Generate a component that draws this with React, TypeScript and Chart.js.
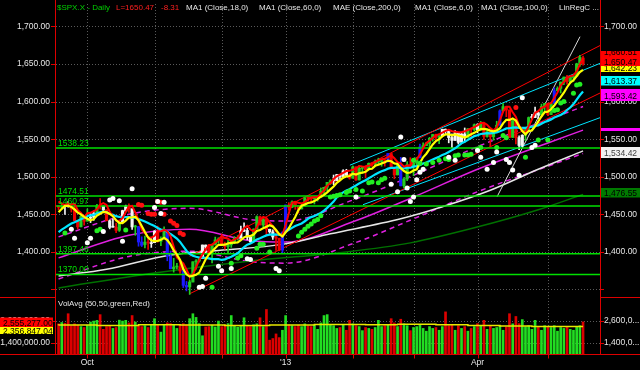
import React, { useEffect, useRef } from "react";
import { Chart, registerables } from "chart.js";

Chart.register(...registerables);

// ---------------- DATA ----------------
// closes before the first visible bar (Aug 23 - Sep 17, 2012), used for MA warm-up
const priorCloses = [1402.08, 1411.13, 1410.44, 1409.3, 1410.49, 1399.48, 1406.58, 1404.94, 1403.44, 1432.12, 1437.92, 1429.08, 1433.56, 1436.56, 1459.99, 1465.77, 1461.19];
const priorHighs = [1474.51, 1465.63];

// daily bars Sep 18 2012 - May 16 2013
const opens = [
  1461.19, 1459.5, 1461.05, 1460.34, 1459.76, 1456.94, 1441.6, 1433.36, 1447.13,
  1440.9, 1444.99, 1446.05, 1451.08, 1461.4, 1460.93, 1455.9, 1441.48, 1432.82, 1432.84,
  1428.75, 1440.31, 1454.22, 1460.94, 1457.34, 1433.21, 1433.74, 1413.2, 1409.74, 1412.97, 1410.99,
  1412.2, 1427.59, 1414.02, 1417.26, 1428.27, 1394.53, 1377.55, 1379.86, 1380.03, 1374.64, 1355.41, 1353.36,
  1359.88, 1386.82, 1387.79, 1391.03, 1409.15, 1406.29, 1398.77, 1409.96, 1415.95,
  1416.34, 1409.46, 1407.05, 1409.43, 1413.95, 1418.07, 1418.55, 1427.84, 1428.48, 1419.45,
  1413.54, 1430.47, 1446.79, 1435.81, 1443.67, 1430.15, 1426.66, 1419.83, 1418.1, 1402.43,
  1426.19, 1462.42, 1459.37, 1466.47, 1461.89, 1457.15, 1461.02, 1472.12,
  1472.05, 1470.67, 1472.33, 1472.63, 1480.95, 1485.98, 1492.56, 1494.81, 1494.82, 1502.96, 1500.18, 1507.84, 1501.96,
  1498.11, 1513.17, 1495.71, 1511.29, 1512.12, 1509.39, 1517.93, 1517.01, 1519.43, 1520.33, 1521.38,
  1519.79, 1530.94, 1511.95, 1502.42, 1515.6, 1487.85, 1496.94, 1515.99, 1514.68,
  1518.2, 1525.2, 1539.79, 1541.46, 1544.26, 1551.15, 1556.22, 1552.48, 1554.52, 1563.21,
  1560.7, 1552.1, 1548.34, 1558.71, 1545.9, 1556.89, 1551.69, 1563.75, 1562.86,
  1569.18, 1562.17, 1570.25, 1553.69, 1559.98, 1553.26, 1563.11, 1568.61, 1587.73, 1593.3,
  1588.84, 1552.36, 1574.57, 1552.03, 1541.61, 1555.25, 1562.5, 1578.78, 1578.78, 1585.16, 1582.34, 1593.58,
  1597.55, 1582.77, 1597.6, 1614.4, 1617.55, 1625.95, 1632.69, 1626.69, 1632.1, 1633.75, 1649.13, 1658.07,
];
const highs = [
  1461.47, 1465.15, 1461.23, 1467.07, 1461.47, 1463.24, 1441.6, 1450.2, 1447.13,
  1457.14, 1451.52, 1454.3, 1463.14, 1470.96, 1460.93, 1455.9, 1442.52, 1443.9, 1438.43,
  1441.31, 1455.51, 1462.2, 1464.02, 1457.34, 1435.46, 1433.74, 1420.04, 1421.12, 1417.09, 1418.76,
  1428.35, 1434.27, 1419.9, 1433.38, 1428.27, 1401.23, 1391.39, 1384.87, 1388.81, 1380.13, 1360.62, 1362.03,
  1386.89, 1389.77, 1391.25, 1409.16, 1409.15, 1409.01, 1410.31, 1419.7, 1418.86,
  1423.73, 1413.14, 1415.56, 1413.95, 1420.34, 1421.64, 1434.27, 1438.59, 1431.36, 1419.45,
  1430.67, 1448.0, 1447.75, 1443.7, 1443.67, 1430.15, 1429.42, 1422.8, 1418.1, 1426.74,
  1462.43, 1465.47, 1467.94, 1466.47, 1461.89, 1464.73, 1472.3, 1472.75,
  1472.05, 1473.31, 1473.96, 1485.16, 1485.98, 1492.56, 1496.13, 1502.27, 1503.26, 1503.23, 1509.35, 1509.94, 1504.19,
  1514.41, 1513.17, 1514.96, 1512.53, 1512.9, 1518.31, 1518.31, 1522.29, 1524.69, 1523.14, 1524.24,
  1530.94, 1530.94, 1511.95, 1515.64, 1525.84, 1498.99, 1520.08, 1525.34, 1519.99,
  1525.27, 1543.47, 1545.25, 1545.78, 1552.48, 1556.27, 1556.77, 1556.39, 1563.32, 1563.62,
  1560.7, 1557.25, 1561.56, 1558.71, 1557.74, 1564.91, 1563.95, 1564.07, 1570.28,
  1570.57, 1573.66, 1571.47, 1562.6, 1559.98, 1563.07, 1573.89, 1589.07, 1597.35, 1593.3,
  1588.84, 1575.35, 1574.57, 1554.38, 1555.89, 1565.55, 1579.58, 1583.0, 1592.64, 1585.78, 1596.65, 1597.57,
  1597.55, 1598.6, 1618.46, 1619.77, 1626.03, 1632.78, 1635.01, 1633.7, 1636.0, 1651.1, 1661.49, 1660.51,
];
const lows = [
  1456.13, 1457.88, 1449.98, 1459.51, 1453.0, 1441.59, 1430.53, 1433.36, 1435.6,
  1440.9, 1439.01, 1441.99, 1451.08, 1456.89, 1453.1, 1441.18, 1430.64, 1432.82, 1425.53,
  1427.24, 1440.31, 1453.35, 1452.63, 1429.85, 1422.06, 1407.56, 1407.1, 1405.14, 1403.28, 1405.95,
  1412.2, 1412.91, 1408.13, 1417.26, 1388.14, 1377.51, 1373.03, 1377.19, 1371.39, 1352.5, 1348.05, 1343.35,
  1359.88, 1377.04, 1386.39, 1391.03, 1397.68, 1398.03, 1385.43, 1409.04, 1411.63,
  1408.46, 1403.65, 1398.23, 1405.93, 1410.9, 1415.64, 1418.55, 1426.76, 1416.0, 1411.88,
  1413.54, 1430.47, 1435.8, 1432.82, 1422.58, 1424.66, 1416.43, 1401.8, 1401.58, 1398.11,
  1426.19, 1455.53, 1458.99, 1456.62, 1451.64, 1457.15, 1461.02, 1467.58,
  1465.69, 1463.76, 1467.6, 1472.63, 1475.81, 1481.16, 1489.9, 1489.46, 1494.82, 1496.33, 1498.09, 1500.11, 1496.76,
  1498.11, 1495.02, 1495.71, 1504.71, 1498.49, 1509.39, 1513.61, 1515.61, 1515.93, 1514.02, 1514.14,
  1519.79, 1511.41, 1497.29, 1502.42, 1487.85, 1485.01, 1494.88, 1514.46, 1501.48,
  1512.29, 1525.2, 1538.11, 1541.46, 1539.28, 1547.36, 1548.24, 1544.0, 1554.52, 1555.74,
  1545.13, 1538.57, 1548.34, 1543.55, 1545.9, 1546.22, 1551.69, 1551.9, 1561.08,
  1558.47, 1562.17, 1549.8, 1552.52, 1539.5, 1548.63, 1560.92, 1568.61, 1586.17, 1579.97,
  1552.28, 1552.36, 1543.69, 1536.03, 1539.4, 1548.19, 1562.5, 1575.8, 1578.78, 1577.56, 1582.34, 1586.5,
  1581.28, 1582.77, 1597.6, 1614.21, 1611.46, 1622.7, 1623.09, 1623.71, 1626.74, 1633.75, 1646.68, 1648.6,
];
const closes = [
  1459.32, 1461.05, 1460.26, 1460.15, 1456.89, 1441.59, 1433.32, 1447.15, 1440.67,
  1444.49, 1445.75, 1450.99, 1461.4, 1460.93, 1455.88, 1441.48, 1432.56, 1432.84, 1428.59,
  1440.13, 1454.92, 1460.91, 1457.34, 1433.19, 1433.82, 1413.11, 1408.75, 1412.97, 1411.94, 1412.16,
  1427.59, 1414.2, 1417.26, 1428.39, 1394.53, 1377.51, 1379.85, 1380.03, 1374.53, 1355.49, 1353.33, 1359.88,
  1386.89, 1387.81, 1391.03, 1409.15, 1406.29, 1398.94, 1409.93, 1415.95, 1416.18,
  1409.46, 1407.05, 1409.28, 1413.94, 1418.07, 1418.55, 1427.84, 1428.48, 1419.45, 1413.58,
  1430.36, 1446.79, 1435.81, 1443.69, 1430.15, 1426.66, 1419.83, 1418.1, 1402.43, 1426.19,
  1462.42, 1459.37, 1466.47, 1461.89, 1457.15, 1461.02, 1472.12, 1472.05,
  1470.68, 1472.34, 1472.63, 1480.94, 1485.98, 1492.56, 1494.81, 1494.82, 1502.96, 1500.18, 1507.84, 1501.96, 1498.11,
  1513.17, 1495.71, 1511.29, 1512.12, 1509.39, 1517.93, 1517.01, 1519.43, 1520.33, 1521.38, 1519.79,
  1530.94, 1511.95, 1502.42, 1515.6, 1487.85, 1496.94, 1515.99, 1514.68, 1518.2,
  1525.2, 1539.79, 1541.46, 1544.26, 1551.18, 1556.22, 1552.48, 1554.52, 1563.23, 1560.7,
  1552.1, 1548.34, 1558.71, 1545.8, 1556.89, 1551.69, 1563.77, 1562.85, 1569.19,
  1562.17, 1570.25, 1553.69, 1559.98, 1553.28, 1563.07, 1568.61, 1587.73, 1593.37, 1588.85,
  1552.36, 1574.57, 1552.01, 1541.61, 1555.25, 1562.5, 1578.78, 1578.79, 1585.16, 1582.24, 1593.61, 1597.57,
  1582.7, 1597.59, 1614.42, 1617.5, 1625.96, 1632.69, 1626.67, 1633.7, 1633.77, 1650.34, 1658.78, 1650.47,
];
// volume in thousands
const volumes = [
  2450, 2520, 2480, 3000, 2350, 2450, 2380, 2300, 2250,
  2380, 2550, 2600, 2640, 2950, 2150, 2300, 2350, 2200, 2250,
  2650, 2600, 2640, 2500, 2900, 2550, 2350, 2300, 2350, 2250, 2400,
  2730, 2400, 2000, 2420, 2500, 2460, 2370, 2200, 2420, 2460, 2400, 2730,
  3000, 2800, 2460, 1800, 2280, 2300, 2370, 2280, 2600,
  2300, 2400, 2460, 2900, 2350, 2270, 2370, 2780, 2350, 2300,
  2400, 2450, 2780, 2300, 3230, 1560, 1650, 1900, 1700, 2100,
  2900, 2400, 2350, 2300, 2380, 2300, 2450, 2350,
  2300, 2380, 2150, 2500, 2900, 2950, 2400, 2350, 2200, 2250, 2400, 2100, 2640,
  2450, 2350, 2300, 2080, 2250, 2200, 2150, 2250, 2640, 2300, 2350,
  2400, 2730, 2500, 2300, 2700, 2450, 2350, 2080, 2250,
  2300, 2400, 2200, 2050, 2300, 2200, 2250, 2100, 2300, 3100,
  2350, 2380, 2100, 2350, 2200, 2300, 2050, 2200, 2300,
  2460, 2350, 2640, 2150, 2370, 2200, 2250, 2350, 2100, 2280,
  3000, 2450, 2850, 2460, 2680, 2300, 2350, 2150, 2640, 2280, 2100, 2350,
  2300, 2250, 2350, 2050, 2250, 2200, 2300, 2150, 2100, 2300, 2350, 2555,
];
const volAvgIdx = [0, 12, 25, 38, 52, 66, 80, 96, 106, 118, 128, 138, 148, 156, 164];
const volAvgVals = [2370, 2380, 2360, 2400, 2380, 2360, 2390, 2420, 2400, 2430, 2400, 2360, 2330, 2300, 2300];

// candle colour groups
const blueBars = [25, 26, 34, 35, 39, 40, 70, 71, 103, 107, 113, 138, 155];
const whiteBars = [2, 3, 10, 11, 14, 16, 17, 20, 21, 23, 29, 30, 45, 46, 57, 58, 59, 60, 66, 67, 86, 87, 88, 89, 90, 120, 121, 122, 123, 124, 125, 126, 127, 131, 144, 145, 148, 149, 150];

// horizontal levels
const levels = [1538.23, 1474.51, 1460.97, 1397.46, 1370.0];
const levelLabels = ["1538.23", "1474.51", "1460.97", "1397.46", "1370.00"];

// longer averages
const ma100Idx = [0, 15, 35, 50, 70, 85, 107, 120, 135, 150, 164];
const ma100Vals = [1368, 1377, 1396, 1402, 1410, 1424, 1444, 1460, 1482, 1510, 1534.42];
const ma200Idx = [0, 30, 60, 90, 110, 130, 150, 164];
const ma200Vals = [1352, 1372, 1388, 1400, 1412, 1432, 1456, 1476.55];
const ma60Idx = [0, 22, 41, 60, 71, 92, 111, 131, 153, 164];
const ma60Vals = [1392, 1422, 1430, 1415, 1413, 1440, 1473, 1510, 1545, 1562];
const maeUpperVals = [1420, 1450, 1458, 1443, 1441, 1469, 1502, 1540, 1576, 1593.42];
const maeLowerVals = [1364, 1394, 1401, 1387, 1385, 1411, 1444, 1480, 1514, 1531];

// regression channels and trend line (bar index, price)
const redChanIdx = [41, 169.3];
const redChanUpper = [1394.3, 1674.6];
const redChanLower = [1344.3, 1611.4];
const redChanStart = [1344.3, 1366];
const cyanUpIdx = [91.1, 169.3];
const cyanUpVals = [1515.4, 1650.9];
const cyanLoIdx = [95.2, 169.3];
const cyanLoVals = [1462.8, 1578.6];
const trendIdx = [137.1, 163.05];
const trendVals = [1473.3, 1686.4];

// dots
const greenDotIdx = [2, 12, 13, 21, 48, 54, 56, 57, 62, 63, 64, 66, 75, 76, 77, 78, 79, 80, 81, 82, 85, 86, 87, 88, 90, 91, 93, 95, 97, 98, 100, 101, 102, 111, 113, 115, 117, 119, 121, 122, 124, 125, 127, 128, 129, 131, 132, 137, 139, 140, 146, 150, 153, 155, 156, 157, 158, 161, 162, 163];
const greenDotVals = [1425, 1428, 1430, 1429, 1353, 1385, 1392, 1395, 1405, 1410, 1410, 1400, 1421, 1426, 1430, 1434, 1437, 1441, 1443, 1448, 1473, 1474, 1475, 1476, 1479, 1481, 1483, 1481, 1492, 1493, 1492, 1496, 1498, 1522, 1518, 1517, 1519, 1522, 1524, 1523, 1528, 1529, 1529, 1529, 1530, 1537, 1539, 1539, 1555, 1552, 1526, 1549, 1549, 1588, 1589, 1598, 1600, 1611, 1622, 1623];
const redDotIdx = [25, 26, 28, 29, 30, 31, 32, 33, 35, 36, 37, 38, 39, 143];
const redDotVals = [1463, 1462, 1451, 1450, 1450, 1467, 1466, 1450, 1441, 1438, 1435, 1425, 1423, 1592];
const whiteDotIdx = [4, 5, 9, 10, 14, 16, 17, 19, 20, 23, 30, 31, 32, 33, 44, 45, 46, 50, 51, 54, 59, 60, 68, 69, 93, 104, 106, 107, 108, 109, 110, 111, 112, 113, 114, 122, 124, 131, 132, 134, 136, 137, 140, 141, 142, 144, 145, 148, 149];
const whiteDotVals = [1430, 1418, 1412, 1418, 1427, 1469, 1471, 1468, 1414, 1484, 1459, 1467, 1451, 1466, 1353, 1354, 1365, 1381, 1375, 1378, 1391, 1390, 1378, 1375, 1473, 1490, 1480, 1553, 1523, 1485, 1467, 1473, 1496, 1506, 1510, 1526, 1522, 1535, 1526, 1510, 1519, 1533, 1523, 1519, 1509, 1502, 1605, 1539, 1542];

// axes
const priceTicks = [1350, 1400, 1450, 1500, 1550, 1600, 1650, 1700];
const priceLabels = ["", "1,400.00", "1,450.00", "1,500.00", "1,550.00", "1,600.00", "1,650.00", "1,700.00"];
const volTicks = [1400, 2600];
const volLeftLabels = ["1,400,000.00", "2,600,000.00"];
const volRightLabels = ["1,400,0...", "2,600,0..."];
const monthIdx = [9, 30, 51, 71, 92, 111, 131, 153];
const monthLabels = ["Oct", "", "", "'13", "", "", "Apr", ""];

// ---------------- HELPERS ----------------
const X_MIN = -0.8;
const X_MAX = 169.3;
const FONT = '"Liberation Sans", Arial, sans-serif';
const AXIS_RED = "#dd0000";

function movingAverage(src: number[], prior: number[], n: number) {
  const all = prior.concat(src);
  const off = prior.length;
  return src.map((_, i) => {
    let s = 0;
    const end = i + off;
    for (let k = end - n + 1; k <= end; k++) s += all[k];
    return s / n;
  });
}
const pts = (idx: number[], vals: number[]) => idx.map((x, k) => ({ x, y: vals[k] }));

const ma6 = movingAverage(closes, priorCloses, 6);
const ma18 = movingAverage(closes, priorCloses, 18);
const ma3h = movingAverage(highs, priorHighs, 3);

const blueSet = new Set(blueBars);
const whiteSet = new Set(whiteBars);
const candleColors = closes.map((c, i) =>
  blueSet.has(i) ? "#1a1aff" : whiteSet.has(i) ? "#f4f4f4" : c >= opens[i] ? "#22cc22" : "#ee0000"
);
const volColors = volumes.map((_, i) => {
  const prev = i === 0 ? priorCloses[priorCloses.length - 1] : closes[i - 1];
  return closes[i] >= prev ? "#22dd22" : "#dd0000";
});

const priceClip = { left: 0, top: 0, right: 0, bottom: -57 };
const volClip = { left: 0, top: -297, right: 0, bottom: 0 };

function lineDs(data: any[], color: string, width: number, order: number, extra: any = {}) {
  return {
    type: "line",
    data,
    borderColor: color,
    borderWidth: width,
    pointRadius: 0,
    tension: 0,
    fill: false,
    clip: priceClip,
    yAxisID: "y",
    order,
    ...extra,
  };
}
function dotDs(data: any[], color: string) {
  return {
    type: "scatter",
    data,
    pointRadius: 2.5,
    pointBackgroundColor: color,
    pointBorderWidth: 0,
    clip: priceClip,
    yAxisID: "y",
    order: 0,
  };
}

const overlay = {
  id: "overlay",
  beforeDraw(chart: any) {
    const ctx = chart.ctx;
    ctx.save();
    ctx.fillStyle = "#000";
    ctx.fillRect(0, 0, chart.width, chart.height);
    ctx.restore();
  },
  beforeDatasetsDraw(chart: any) {
    const { ctx, chartArea: a, scales } = chart;
    ctx.save();
    ctx.strokeStyle = "#5a5a5a";
    ctx.lineWidth = 1;
    ctx.setLineDash([1, 2]);
    ctx.beginPath();
    for (const p of priceTicks) {
      const py = Math.round(scales.y.getPixelForValue(p)) + 0.5;
      ctx.moveTo(a.left, py);
      ctx.lineTo(a.right, py);
    }
    for (const v of volTicks) {
      const py = Math.round(scales.yv.getPixelForValue(v)) + 0.5;
      ctx.moveTo(a.left, py);
      ctx.lineTo(a.right, py);
    }
    for (const m of monthIdx) {
      const px = Math.round(scales.x.getPixelForValue(m)) + 0.5;
      ctx.moveTo(px, a.top);
      ctx.lineTo(px, a.bottom);
    }
    ctx.stroke();
    ctx.restore();
  },
  afterDraw(chart: any) {
    const { ctx, scales } = chart;
    const ys = scales.y, yv = scales.yv, xs = scales.x;
    const L = 55.5, R = 600.5, B = 354.5, SEP = 297.5;
    ctx.save();
    ctx.setLineDash([]);
    // axis frame
    ctx.strokeStyle = AXIS_RED;
    ctx.lineWidth = 1;
    ctx.beginPath();
    ctx.moveTo(L, 0); ctx.lineTo(L, B);
    ctx.moveTo(R, 0); ctx.lineTo(R, B);
    ctx.moveTo(0, B); ctx.lineTo(640, B);
    ctx.moveTo(0, SEP); ctx.lineTo(56, SEP);
    ctx.moveTo(600, SEP); ctx.lineTo(640, SEP);
    for (const p of priceTicks) {
      const py = Math.round(ys.getPixelForValue(p)) + 0.5;
      ctx.moveTo(51, py); ctx.lineTo(L, py);
      ctx.moveTo(R, py); ctx.lineTo(604, py);
    }
    for (const v of volTicks) {
      const py = Math.round(yv.getPixelForValue(v)) + 0.5;
      ctx.moveTo(51, py); ctx.lineTo(L, py);
      ctx.moveTo(R, py); ctx.lineTo(604, py);
    }
    for (const m of monthIdx) {
      const px = Math.round(xs.getPixelForValue(m)) + 0.5;
      ctx.moveTo(px, B); ctx.lineTo(px, B + 4);
    }
    ctx.stroke();

    // tick labels
    ctx.font = `8.5px ${FONT}`;
    ctx.fillStyle = "#e6e6e6";
    ctx.textBaseline = "middle";
    priceTicks.forEach((p, k) => {
      if (!priceLabels[k]) return;
      const py = ys.getPixelForValue(p);
      ctx.textAlign = "right";
      ctx.fillText(priceLabels[k], 50, py);
      ctx.textAlign = "left";
      ctx.fillText(priceLabels[k], 604, py);
    });
    volTicks.forEach((v, k) => {
      const py = yv.getPixelForValue(v);
      ctx.textAlign = "right";
      ctx.fillText(volLeftLabels[k], 50, py);
      ctx.textAlign = "left";
      ctx.fillText(volRightLabels[k], 604, py);
    });
    ctx.textAlign = "center";
    monthIdx.forEach((m, k) => {
      if (!monthLabels[k]) return;
      ctx.fillText(monthLabels[k], xs.getPixelForValue(m), 363);
    });

    // level labels
    ctx.textAlign = "left";
    ctx.textBaseline = "alphabetic";
    ctx.fillStyle = "#00e000";
    levels.forEach((lv, k) => {
      ctx.fillText(levelLabels[k], 58, ys.getPixelForValue(lv) - 2);
    });

    // right value boxes
    const box = (x: number, y: number, w: number, h: number, fill: string, texts: [string, number][], tc = "#000") => {
      ctx.save();
      ctx.fillStyle = fill;
      ctx.fillRect(x, y, w, h);
      ctx.beginPath();
      ctx.rect(x, y, w, h);
      ctx.clip();
      ctx.fillStyle = tc;
      ctx.textAlign = "left";
      ctx.textBaseline = "alphabetic";
      for (const [t, by] of texts) ctx.fillText(t, x + 3, by);
      ctx.restore();
    };
    ctx.font = `8.5px ${FONT}`;
    box(601, 62, 39, 10, "#ffff00", [["1,642.23", 71]]);
    box(601, 51, 39, 15, "#ff0000", [["1,660.51", 55], ["1,650.47", 64.5]]);
    box(601, 76, 39, 9.5, "#00ffff", [["1,613.37", 84]]);
    box(601, 89, 39, 12, "#ff00ff", [["1,593.42", 98.5]]);
    box(601, 128, 39, 3, "#ff00ff", []);
    box(601, 147, 39, 11, "#f2f2f2", [["1,534.42", 156]], "#404040");
    box(601, 188, 39, 9.5, "#007a00", [["1,476.55", 196]]);
    // left volume boxes
    box(0, 326.5, 53, 7.5, "#ffff00", [["2,356,847.04", 333.5]], "#000");
    box(0, 317.5, 53, 9.5, "#ff0000", [["2,555,277.00", 325.5]], "#000");

    // legend
    ctx.font = `8px ${FONT}`;
    ctx.textAlign = "left";
    ctx.textBaseline = "alphabetic";
    const legend: [string, number, string][] = [
      ["$SPX.X - Daily", 57, "#00d000"],
      ["L=1650.47", 116, "#ff2020"],
      ["-8.31", 161, "#ff2020"],
      ["MA1 (Close,18,0)", 186, "#e6e6e6"],
      ["MA1 (Close,60,0)", 259, "#e6e6e6"],
      ["MAE (Close,200,0)", 333, "#e6e6e6"],
      ["MA1 (Close,6,0)", 415, "#e6e6e6"],
      ["MA1 (Close,100,0)", 481, "#e6e6e6"],
      ["LinRegC ...", 559, "#e6e6e6"],
    ];
    for (const [t, x, c] of legend) {
      ctx.fillStyle = c;
      ctx.fillText(t, x, 10);
    }
    ctx.fillStyle = "#e6e6e6";
    ctx.fillText("VolAvg (50,50,green,Red)", 58, 306);
    ctx.restore();
  },
};

function buildConfig(): any {
  const idx = closes.map((_, i) => i);
  const datasets: any[] = [
    dotDs(pts(whiteDotIdx, whiteDotVals), "#ffffff"),
    dotDs(pts(greenDotIdx, greenDotVals), "#22ee22"),
    dotDs(pts(redDotIdx, redDotVals), "#ff1010"),
    lineDs(pts(idx, ma6), "#ffff00", 2.2, 1),
    lineDs(pts(idx, ma3h), "#ff0000", 2, 2),
    lineDs(pts(idx, ma18), "#00e5ff", 2.2, 3),
    ...levels.map((lv) => lineDs([{ x: X_MIN, y: lv }, { x: X_MAX, y: lv }], "#00e000", 1.5, 4)),
    {
      type: "bar",
      data: idx.map((i) => ({ x: i, y: [opens[i], closes[i]] })),
      backgroundColor: candleColors,
      barThickness: 2.5,
      minBarLength: 1,
      grouped: false,
      borderWidth: 0,
      clip: priceClip,
      yAxisID: "y",
      order: 5,
    },
    {
      type: "bar",
      data: idx.map((i) => ({ x: i, y: [lows[i], highs[i]] })),
      backgroundColor: candleColors,
      barThickness: 1,
      grouped: false,
      borderWidth: 0,
      clip: priceClip,
      yAxisID: "y",
      order: 6,
    },
    lineDs(pts(redChanIdx, redChanUpper), "#ff0000", 1, 7),
    lineDs(pts(redChanIdx, redChanLower), "#ff0000", 1, 7),
    lineDs([{ x: redChanIdx[0], y: redChanStart[0] }, { x: redChanIdx[0], y: redChanStart[1] }], "#ff0000", 1, 7),
    lineDs(pts(cyanUpIdx, cyanUpVals), "#00e5ff", 1, 7),
    lineDs(pts(cyanLoIdx, cyanLoVals), "#00e5ff", 1, 7),
    lineDs(pts(trendIdx, trendVals), "#d8d8d8", 1, 7),
    lineDs(pts(ma100Idx, ma100Vals), "#e6e6e6", 1.5, 8, { tension: 0.4, cubicInterpolationMode: "monotone" }),
    lineDs(pts(ma200Idx, ma200Vals), "#007000", 1.5, 8, { tension: 0.4, cubicInterpolationMode: "monotone" }),
    lineDs(pts(ma60Idx, ma60Vals), "#e020e0", 1.5, 8, { tension: 0.4, cubicInterpolationMode: "monotone" }),
    lineDs(pts(ma60Idx, maeUpperVals), "#e020e0", 1.5, 8, { tension: 0.4, cubicInterpolationMode: "monotone", borderDash: [5, 4] }),
    lineDs(pts(ma60Idx, maeLowerVals), "#e020e0", 1.5, 8, { tension: 0.4, cubicInterpolationMode: "monotone", borderDash: [5, 4] }),
    {
      type: "line",
      data: pts(volAvgIdx, volAvgVals),
      borderColor: "#e8e800",
      borderWidth: 1.5,
      pointRadius: 0,
      stepped: "after",
      fill: false,
      clip: volClip,
      yAxisID: "yv",
      order: 1,
    },
    {
      type: "bar",
      data: idx.map((i) => ({ x: i, y: volumes[i] })),
      backgroundColor: volColors,
      barThickness: 2,
      grouped: false,
      borderWidth: 0,
      clip: volClip,
      yAxisID: "yv",
      order: 9,
    },
  ];
  return {
    type: "bar",
    data: { datasets },
    plugins: [overlay],
    options: {
      animation: false,
      responsive: false,
      maintainAspectRatio: false,
      devicePixelRatio: 1,
      events: [],
      layout: { padding: { left: 56, right: 40, top: 0, bottom: 16 } },
      plugins: { legend: { display: false }, tooltip: { enabled: false } },
      scales: {
        x: { type: "linear", min: X_MIN, max: X_MAX, display: false, offset: false },
        y: { type: "linear", min: 1264.1, max: 1729.9, display: false },
        yv: { type: "linear", min: 808, max: 19855, display: false },
      },
    },
  };
}

export default function App() {
  const ref = useRef<HTMLCanvasElement>(null);
  useEffect(() => {
    const chart = new Chart(ref.current as HTMLCanvasElement, buildConfig());
    return () => chart.destroy();
  }, []);
  return (
    <div style={{ position: "fixed", left: 0, top: 0, width: 640, height: 370, background: "#000" }}>
      <canvas ref={ref} width={640} height={370} style={{ display: "block", width: 640, height: 370 }} />
    </div>
  );
}
